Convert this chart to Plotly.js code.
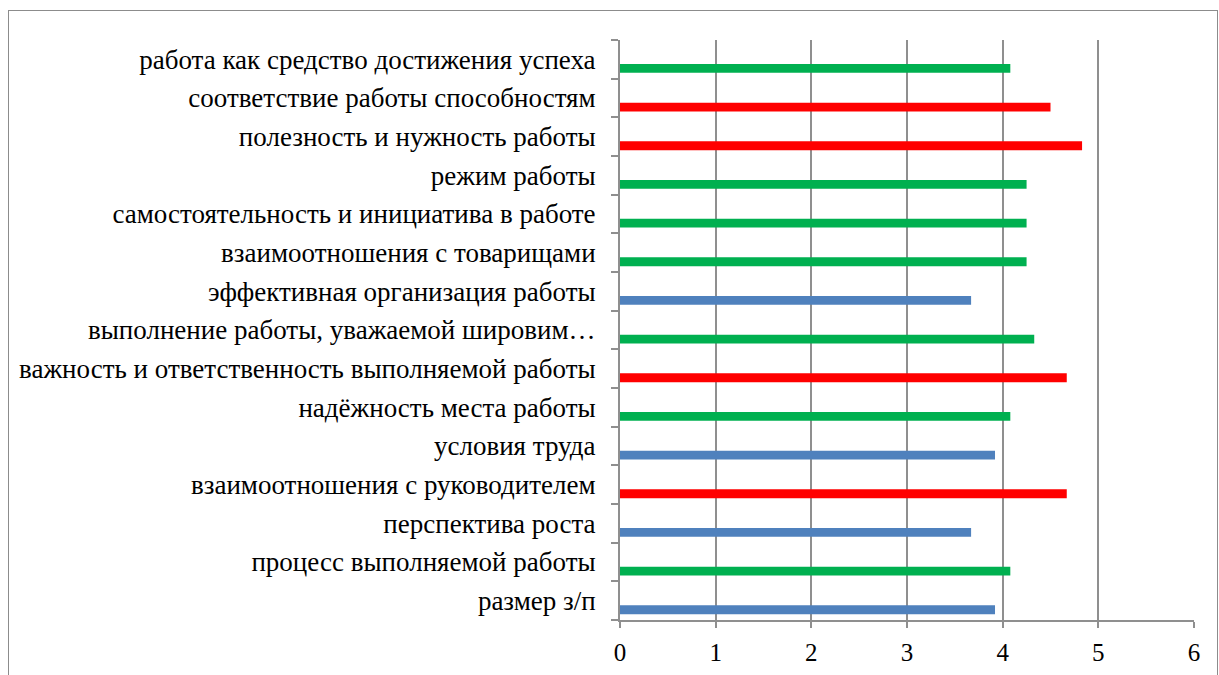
<!DOCTYPE html>
<html>
<head>
<meta charset="utf-8">
<script src="https://cdn.plot.ly/plotly-3.0.1.min.js"></script>
<style>
  html, body { margin: 0; padding: 0; background: #fff; }
  #chart { position: absolute; left: 0; top: 0; width: 1219px; height: 675px; }
  #frame { position: absolute; left: 8px; top: 10px; width: 1210px; height: 680px;
           border: 1px solid #8c8c8c; pointer-events: none; box-sizing: border-box; }
</style>
</head>
<body>
<div id="chart"></div>
<div id="frame"></div>
<script>
// Categories from bottom to top
const categories = [
  "размер з/п",
  "процесс выполняемой работы",
  "перспектива роста",
  "взаимоотношения с руководителем",
  "условия труда",
  "надёжность места работы",
  "важность и ответственность выполняемой работы",
  "выполнение работы, уважаемой шировим…",
  "эффективная организация работы",
  "взаимоотношения с товарищами",
  "самостоятельность и инициатива в работе",
  "режим работы",
  "полезность и нужность работы",
  "соответствие работы способностям",
  "работа как средство достижения успеха"
];
const values = [3.92, 4.08, 3.67, 4.67, 3.92, 4.08, 4.67, 4.33, 3.67, 4.25, 4.25, 4.25, 4.83, 4.5, 4.08];
// group of each factor: "b" = blue, "g" = green, "r" = red
const groups = ["b", "g", "b", "r", "b", "g", "r", "g", "b", "g", "g", "g", "r", "r", "g"];
const xTicks = [0, 1, 2, 3, 4, 5, 6];

const palette = { b: "#4F81BD", g: "#00B050", r: "#FF0000" };
const SERIF = "Times New Roman";

const trace = {
  type: "bar",
  orientation: "h",
  y: categories,
  x: values,
  marker: { color: groups.map(g => palette[g]), line: { width: 0 } },
  width: 0.23,
  offset: -0.35,
  hoverinfo: "x+y"
};

const layout = {
  width: 1219,
  height: 675,
  margin: { l: 620, r: 25, t: 40, b: 55 },
  paper_bgcolor: "rgba(0,0,0,0)",
  plot_bgcolor: "#ffffff",
  showlegend: false,
  font: { family: SERIF, size: 27, color: "#000" },
  xaxis: {
    range: [0, 6],
    tickvals: xTicks,
    ticktext: xTicks.map(String),
    showgrid: true,
    gridcolor: "#8f8f8f",
    gridwidth: 2,
    zeroline: false,
    showline: true,
    linecolor: "#8f8f8f",
    linewidth: 2,
    ticks: "outside",
    ticklen: 6,
    tickwidth: 2,
    tickcolor: "#8f8f8f",
    ticklabelstandoff: 3,
    tickfont: { family: SERIF, size: 25, color: "#000" },
    fixedrange: true
  },
  yaxis: {
    type: "category",
    categoryorder: "array",
    categoryarray: categories,
    range: [-0.5, categories.length - 0.5],
    showgrid: false,
    zeroline: false,
    showline: true,
    linecolor: "#8f8f8f",
    linewidth: 2,
    ticks: "outside",
    tickson: "boundaries",
    ticklen: 7,
    tickwidth: 2,
    tickcolor: "#8f8f8f",
    ticklabelstandoff: 17,
    tickfont: { family: SERIF, size: 27, color: "#000" },
    automargin: false,
    fixedrange: true
  }
};

Plotly.newPlot("chart", [trace], layout, { displayModeBar: false, staticPlot: true });
</script>
</body>
</html>
